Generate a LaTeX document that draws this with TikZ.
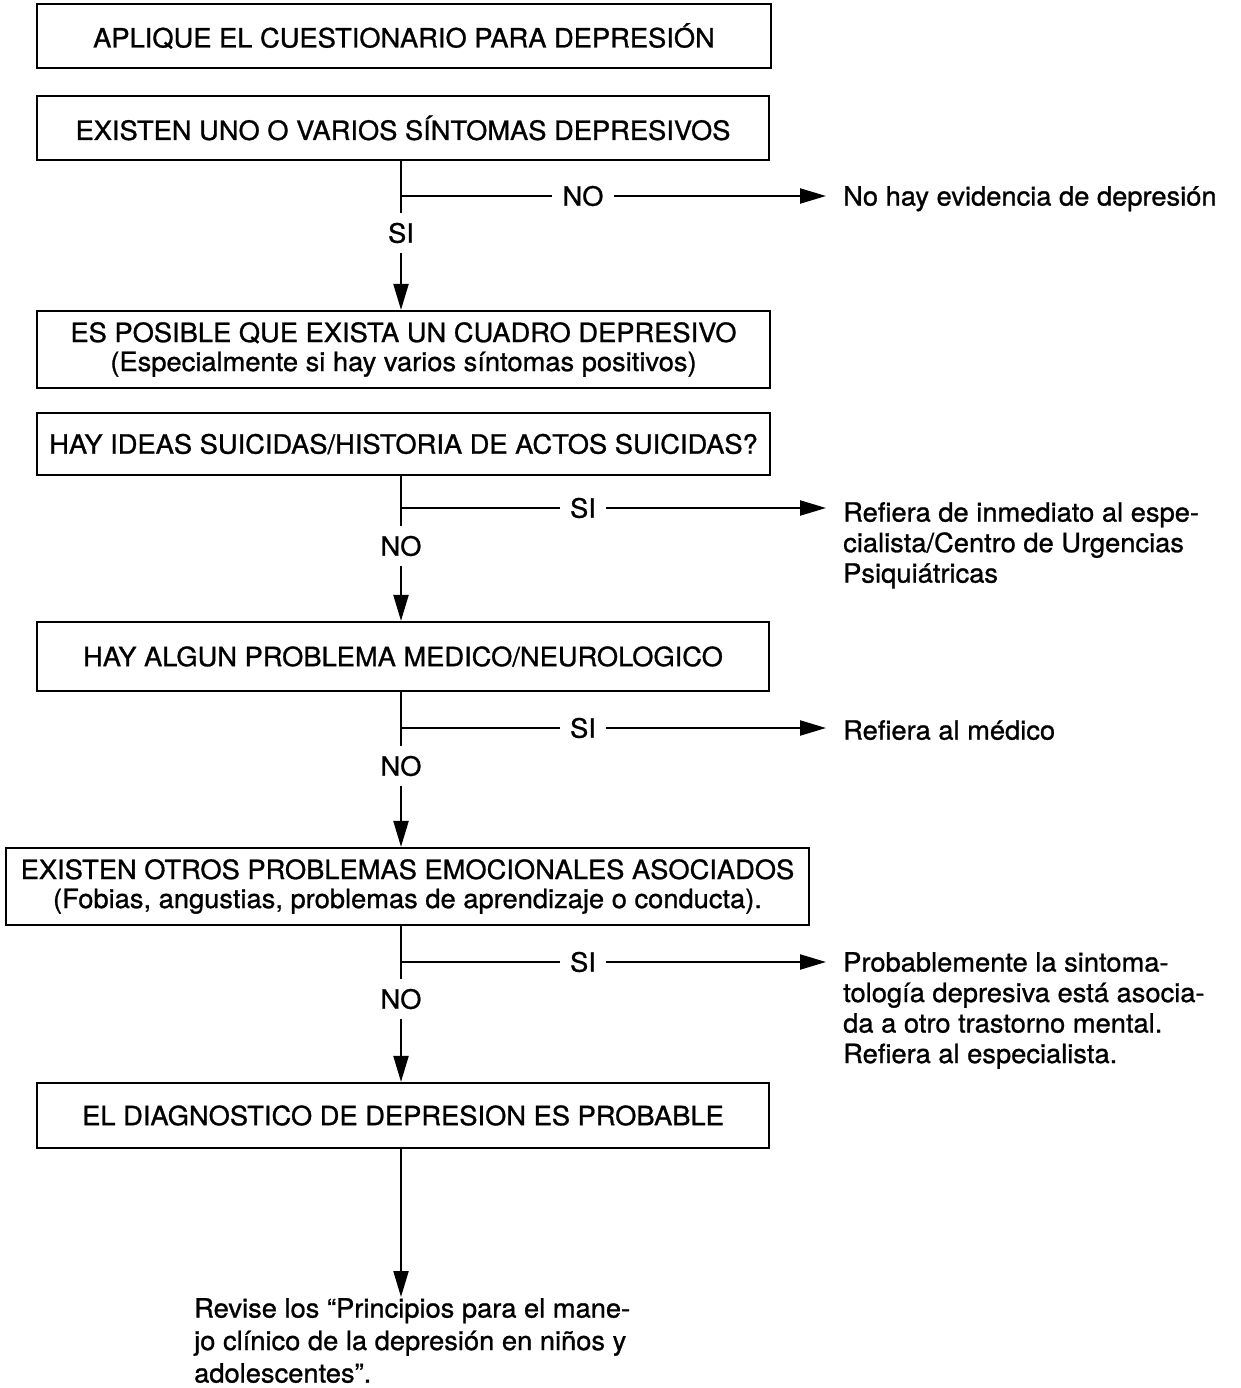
\documentclass[tikz,border=0pt]{standalone}
\usepackage{fontspec}
\setmainfont{TeX Gyre Heros}[FakeStretch=1.03,FakeBold=1]
\usetikzlibrary{arrows.meta}
\begin{document}
\begin{tikzpicture}[x=1pt,y=-1pt,
  flow/.style={line width=2.2pt},
  arr/.style={flow,-{Triangle[length=26pt,width=15pt]}},
  box/.style={draw,line width=2.2pt,inner sep=0pt,align=center,
    font=\fontsize{26.5}{29}\selectfont},
  lbl/.style={inner xsep=10pt,inner ysep=10pt,font=\fontsize{26.5}{29}\selectfont},
  res/.style={anchor=north west,inner xsep=17pt,inner ysep=0pt,align=left,
    font=\fontsize{26.5}{30.5}\selectfont}]
\useasboundingbox (0,0) rectangle (1240,1388);

% main column of boxes
\node[box,minimum width=734pt,minimum height=64pt] (b1) at (404,36)
  {APLIQUE EL CUESTIONARIO PARA DEPRESIÓN};
\node[box,minimum width=732pt,minimum height=64pt] (b2) at (403,128)
  {EXISTEN UNO O VARIOS SÍNTOMAS DEPRESIVOS};
\node[box,minimum width=733pt,minimum height=77pt] (b3) at (403.5,349.5)
  {ES POSIBLE QUE EXISTA UN CUADRO DEPRESIVO\\(Especialmente si hay varios síntomas positivos)};
\node[box,minimum width=733pt,minimum height=62pt] (b4) at (403.5,444)
  {HAY IDEAS SUICIDAS/HISTORIA DE ACTOS SUICIDAS?};
\node[box,minimum width=732pt,minimum height=69pt] (b5) at (403,656.5)
  {HAY ALGUN PROBLEMA MEDICO/NEUROLOGICO};
\node[box,minimum width=803pt,minimum height=77pt] (b6) at (407.5,886.5)
  {EXISTEN OTROS PROBLEMAS EMOCIONALES ASOCIADOS\\(Fobias, angustias, problemas de aprendizaje o conducta).};
\node[box,minimum width=732pt,minimum height=65pt] (b7) at (403,1115.5)
  {EL DIAGNOSTICO DE DEPRESION ES PROBABLE};

% trunk and branch points
\coordinate (trunk) at (401,0);
\coordinate (j1) at (401,196);
\coordinate (j2) at (401,508);
\coordinate (j3) at (401,728);
\coordinate (j4) at (401,962);

% branch labels
\node[lbl] (n1) at (583,196) {NO};
\node[lbl] (s1) at (401,233) {SI};
\node[lbl] (s2) at (583,508) {SI};
\node[lbl] (n2) at (401,546) {NO};
\node[lbl] (s3) at (583,728) {SI};
\node[lbl] (n3) at (401,766) {NO};
\node[lbl] (s4) at (583,962) {SI};
\node[lbl] (n4) at (401,999) {NO};

% outcomes
\node[res] (r1) at (826,186) {No hay evidencia de depresión};
\node[res] (r2) at (826,502) {Refiera de inmediato al espe-\\cialista/Centro de Urgencias\\Psiquiátricas};
\node[res] (r3) at (826,720) {Refiera al médico};
\node[res] (r4) at (826,952) {Probablemente la sintoma-\\tología depresiva está asocia-\\da a otro trastorno mental.\\Refiera al especialista.};
\node[res,inner xsep=0pt,font=\fontsize{26.5}{32.5}\selectfont] (fin) at (194,1298)
  {Revise los “Principios para el mane-\\jo clínico de la depresión en niños y\\adolescentes”.};

% decision 1
\draw[flow] (b2.south -| trunk) -- (j1) -- (s1);
\draw[flow] (j1) -- (n1);
\draw[arr] (n1) -- (n1 -| r1.west);
\draw[arr] (s1) -- (b3.north -| trunk);

% decision 2
\draw[flow] (b4.south -| trunk) -- (j2) -- (n2);
\draw[flow] (j2) -- (s2);
\draw[arr] (s2) -- (s2 -| r2.west);
\draw[arr] (n2) -- (b5.north -| trunk);

% decision 3
\draw[flow] (b5.south -| trunk) -- (j3) -- (n3);
\draw[flow] (j3) -- (s3);
\draw[arr] (s3) -- (s3 -| r3.west);
\draw[arr] (n3) -- (b6.north -| trunk);

% decision 4
\draw[flow] (b6.south -| trunk) -- (j4) -- (n4);
\draw[flow] (j4) -- (s4);
\draw[arr] (s4) -- (s4 -| r4.west);
\draw[arr] (n4) -- (b7.north -| trunk);

% final step
\draw[arr,shorten >=1pt] (b7.south -| trunk) -- (fin.north -| trunk);
\end{tikzpicture}
\end{document}
